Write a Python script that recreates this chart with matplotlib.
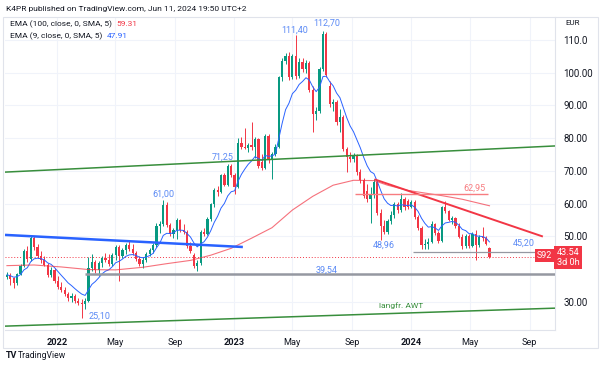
import matplotlib
matplotlib.use("Agg")
import matplotlib.pyplot as plt
import matplotlib.dates as mdates
import numpy as np
import pandas as pd
from matplotlib.patches import Rectangle

plt.rcParams["font.family"] = ["Roboto", "DejaVu Sans"]

# weekly candles of S92
weeks = pd.date_range("2021-09-20", periods=143, freq="7D")
opens = [37.6, 38.2, 37.2, 35.6, 38.4, 40.8, 45.4, 43.0, 49.6, 46.6, 44.0, 42.6, 41.2, 38.2, 39.6,
         36.4, 34.4, 33.4, 32.4, 31.0, 31.6, 30.2, 29.6, 29.2, 30.2, 40.4, 42.0, 39.6, 41.8, 43.4,
         42.6, 41.4, 44.4, 46.8, 44.0, 45.8, 47.2, 46.0, 44.8, 43.0, 41.4, 42.8, 44.6, 45.8, 47.4,
         53.2, 53.8, 59.6, 53.4, 50.6, 51.8, 55.0, 52.0, 51.4, 47.0, 44.2, 40.8, 41.8, 51.4, 50.8,
         55.4, 59.8, 64.2, 63.6, 68.6, 65.8, 71.6, 68.6, 65.0, 78.4, 77.4, 77.0, 77.8, 77.2, 79.6,
         72.8, 71.0, 80.6, 73.4, 75.0, 77.4, 98.6, 103.6, 105.2, 98.6, 105.2, 99.0, 103.4, 101.0, 103.0,
         94.8, 87.4, 88.4, 101.0, 111.8, 96.0, 90.4, 91.0, 85.0, 86.6, 76.8, 74.2, 73.6, 74.8, 69.6,
         67.2, 63.8, 61.4, 62.6, 66.6, 57.0, 53.0, 51.4, 54.6, 56.6, 60.0, 58.0, 61.4, 60.8, 59.0,
         60.4, 56.0, 52.4, 47.2, 47.6, 48.2, 53.6, 51.0, 48.6, 58.8, 57.6, 55.0, 55.6, 53.2, 49.8,
         47.0, 50.2, 47.0, 50.8, 47.2, 49.8, 49.4, 46.4]
highs = [39.0, 38.8, 37.6, 38.8, 41.5, 46.0, 47.0, 50.4, 50.0, 47.6, 45.5, 44.0, 41.8, 40.6, 40.2,
         37.8, 36.0, 34.6, 33.0, 32.6, 32.4, 31.2, 30.8, 31.0, 43.6, 44.6, 42.8, 42.4, 44.0, 45.0,
         44.6, 45.0, 47.4, 47.4, 46.4, 47.8, 48.6, 47.6, 45.6, 44.0, 43.6, 45.2, 46.4, 47.8, 54.0,
         54.6, 61.0, 60.4, 54.0, 52.6, 55.6, 55.4, 53.6, 52.0, 48.2, 44.8, 42.6, 52.0, 52.6, 56.0,
         60.2, 64.8, 65.4, 69.0, 69.2, 72.2, 72.0, 69.4, 80.0, 80.2, 83.0, 78.4, 85.0, 80.2, 80.0,
         75.0, 81.4, 81.4, 75.6, 78.2, 99.0, 104.4, 106.0, 106.2, 105.8, 111.4, 104.4, 104.6, 103.8, 103.6,
         96.0, 89.6, 101.6, 112.7, 112.4, 97.4, 92.0, 91.6, 88.8, 87.2, 77.2, 75.6, 75.4, 75.2, 70.6,
         67.8, 66.0, 65.0, 67.4, 67.2, 58.2, 55.0, 55.4, 57.6, 60.6, 60.6, 63.2, 62.0, 61.4, 61.0,
         61.0, 56.6, 53.0, 49.0, 49.6, 54.6, 54.0, 51.6, 59.2, 60.8, 58.0, 56.2, 56.0, 54.0, 50.6,
         50.8, 50.8, 51.4, 51.8, 50.4, 52.8, 50.0, 46.8]
lows = [36.8, 35.0, 34.2, 35.2, 38.0, 40.5, 42.0, 42.5, 45.8, 43.2, 41.8, 40.8, 37.6, 37.4, 35.8,
        33.8, 32.8, 31.6, 30.2, 30.0, 29.6, 29.0, 25.1, 27.8, 29.8, 39.4, 38.8, 37.8, 40.6, 42.0,
        40.8, 40.8, 42.6, 36.4, 43.2, 44.6, 45.6, 44.2, 42.4, 40.8, 40.4, 42.2, 43.8, 45.0, 46.8,
        51.0, 53.2, 52.8, 50.0, 49.6, 49.2, 51.4, 50.6, 46.4, 45.0, 40.2, 39.4, 41.2, 50.2, 50.4,
        54.8, 59.0, 62.4, 63.2, 65.2, 65.4, 68.0, 62.8, 64.6, 76.8, 76.6, 75.8, 76.4, 73.8, 70.8,
        70.2, 70.4, 72.4, 67.6, 74.4, 77.0, 97.6, 102.8, 97.8, 98.0, 98.2, 98.4, 100.2, 99.8, 94.2,
        82.0, 85.6, 87.8, 100.4, 98.8, 89.6, 88.4, 84.0, 82.0, 76.0, 69.6, 72.6, 72.8, 68.8, 66.2,
        61.8, 60.6, 54.0, 61.8, 56.4, 48.96, 50.8, 50.6, 53.8, 55.6, 57.2, 57.4, 58.0, 58.2, 58.6,
        55.4, 51.8, 46.2, 46.0, 46.2, 47.8, 50.4, 48.0, 48.2, 57.2, 54.6, 53.8, 52.6, 49.4, 46.2,
        46.4, 46.4, 46.6, 42.6, 46.8, 48.4, 47.4, 43.2]
closes = [38.2, 36.8, 35.6, 38.4, 40.8, 45.4, 43.0, 49.6, 46.6, 44.0, 42.6, 41.2, 38.2, 39.6, 36.4,
          34.4, 33.4, 32.4, 31.0, 31.6, 30.2, 29.6, 29.2, 30.2, 40.4, 42.0, 39.6, 41.8, 43.4, 42.6,
          41.4, 44.4, 46.8, 44.0, 45.8, 47.2, 46.0, 44.8, 43.0, 41.4, 42.8, 44.6, 45.8, 47.4, 53.2,
          53.8, 59.6, 53.4, 50.6, 51.8, 55.0, 52.0, 51.4, 47.0, 45.6, 40.8, 41.8, 51.4, 50.8, 55.4,
          59.8, 64.2, 63.6, 68.6, 65.8, 71.6, 68.6, 65.0, 78.4, 77.4, 77.0, 77.8, 77.2, 79.6, 71.4,
          71.0, 80.6, 73.4, 75.0, 77.4, 98.6, 103.6, 105.2, 98.6, 105.2, 99.0, 103.4, 101.0, 103.0, 94.8,
          87.4, 88.4, 101.0, 111.8, 99.4, 90.4, 91.0, 85.0, 86.6, 76.8, 74.2, 73.6, 74.8, 69.6, 67.2,
          62.4, 61.4, 62.6, 66.6, 57.0, 53.0, 51.4, 54.6, 56.6, 60.0, 58.0, 61.4, 58.8, 59.0, 60.4,
          56.0, 52.4, 47.2, 47.6, 48.2, 53.6, 51.0, 48.6, 58.8, 57.6, 55.0, 55.6, 53.2, 49.8, 47.0,
          50.2, 47.0, 50.8, 47.2, 49.8, 49.4, 47.6, 43.54]

# EMA 100 (needs history before the chart) at a few weeks
ema100_week = [0, 8, 16, 24, 32, 40, 47, 54, 60, 66, 72, 78, 84, 90, 96, 102, 108, 112, 118, 128, 134, 142]
ema100_val = [41.0, 41.2, 40.6, 39.8, 39.7, 40.5, 41.6, 42.6, 44.2, 46.3, 49.4, 52.6, 58.0, 62.2,
              65.6, 67.1, 67.0, 65.6, 64.0, 62.4, 61.3, 59.31]

# drawings on the chart: (date, price) end points
green_top = [("2021-09-16", 69.6), ("2024-10-23", 77.6)]
green_bottom = [("2021-09-16", 22.5), ("2024-10-23", 28.0)]
blue_trend = [("2021-09-16", 50.4), ("2023-01-19", 46.7)]
red_trend = [("2023-10-17", 67.4), ("2024-09-28", 49.9)]
level_6295 = [("2023-09-06", 62.95), ("2024-06-07", 62.95)]
level_3954 = [("2022-02-28", 38.54), ("2024-10-23", 38.54)]
level_4520 = [("2024-01-04", 45.20), ("2024-10-23", 45.20)]
last_price = 43.54

GREEN = "#089981"
RED = "#f23645"
BLUE = "#2962ff"
GRID = "#f0f3fa"
TXT = "#131722"

fig = plt.figure(figsize=(6, 3.7), dpi=100)
ax = fig.add_axes([5 / 600, 40 / 370, 550 / 600, 313 / 370])

x = mdates.date2num(weeks)
o = np.array(opens)
h = np.array(highs)
l = np.array(lows)
c = np.array(closes)
col = np.where(c >= o, GREEN, RED)

ax.vlines(x, l, h, colors=col, lw=0.7, zorder=3)
body = np.maximum(np.abs(c - o), 0.3)
ax.bar(x, body, bottom=np.minimum(o, c), width=4.6, color=col, lw=0, zorder=4)

# moving averages
ema9 = pd.Series(closes).ewm(span=9, adjust=False).mean()
ax.plot(x, ema9, color=BLUE, lw=0.7, zorder=5)
ax.plot(x[ema100_week], ema100_val, color=RED, lw=0.8, alpha=0.7, zorder=5)


def seg(pts, **kw):
    d = mdates.date2num(pd.to_datetime([p[0] for p in pts]))
    ax.plot(d, [p[1] for p in pts], solid_capstyle="butt", **kw)


seg(green_top, color="#388e3c", lw=1.1, zorder=6)
seg(green_bottom, color="#388e3c", lw=1.1, zorder=6)
seg(blue_trend, color=BLUE, lw=1.8, zorder=6)
seg(red_trend, color=RED, lw=1.4, zorder=6)
seg(level_6295, color="#f77c80", lw=1.0, zorder=6)
seg(level_3954, color="#9598a1", lw=1.8, zorder=6)
seg(level_4520, color="#9598a1", lw=0.9, zorder=6)
ax.axhline(last_price, color=RED, lw=0.7, ls=(0, (1, 2)), zorder=2)

# price annotations
lbl = dict(color="#5b8af5", fontsize=6.5, ha="center", va="center", zorder=7)
ax.text(mdates.datestr2num("2023-05-05"), 113.1, "111,40", **lbl)
ax.text(mdates.datestr2num("2023-07-10"), 115.0, "112,70", **lbl)
ax.text(mdates.datestr2num("2022-12-08"), 74.3, "71,25", **lbl)
ax.text(mdates.datestr2num("2022-08-08"), 62.9, "61,00", **lbl)
ax.text(mdates.datestr2num("2022-03-30"), 25.6, "25,10", **lbl)
ax.text(mdates.datestr2num("2023-11-05"), 47.3, "48,96", **lbl)
ax.text(mdates.datestr2num("2023-07-10"), 39.7, "39,54", **lbl)
ax.text(mdates.datestr2num("2024-08-20"), 47.9, "45,20", **lbl)
ax.text(mdates.datestr2num("2024-05-10"), 64.7, "62,95", color="#f77c80", fontsize=6.5,
        ha="center", va="center", zorder=7)
ax.text(mdates.datestr2num("2023-12-10"), 28.8, "langfr. AWT", color="#388e3c", fontsize=6,
        ha="center", va="center", zorder=7)

ax.set_xlim(mdates.datestr2num("2021-09-16"), mdates.datestr2num("2024-10-23"))
ax.set_ylim(21.32, 117.03)

# axes: time below, price on the right
tick_dates = ["2022-01-01", "2022-05-01", "2022-09-01", "2023-01-01", "2023-05-01",
              "2023-09-01", "2024-01-01", "2024-05-01", "2024-09-01"]
tick_names = ["2022", "May", "Sep", "2023", "May", "Sep", "2024", "May", "Sep"]
ax.set_xticks(mdates.datestr2num(tick_dates))
ax.set_xticklabels(tick_names, fontsize=6.6, color=TXT)
for t in ax.get_xticklabels():
    if t.get_text().isdigit():
        t.set_fontweight("bold")
ax.tick_params(axis="x", length=0, pad=6)

price_ticks = [30, 50, 60, 70, 80, 90, 100, 110]
ax.yaxis.tick_right()
ax.set_yticks(price_ticks)
ax.set_yticklabels(["110.0" if v == 110 else f"{v:.2f}" for v in price_ticks], fontsize=7, color=TXT)
ax.tick_params(axis="y", length=0, pad=6)
ax.grid(True, color=GRID, lw=0.8, zorder=0)
ax.set_axisbelow(True)
for s in ["left", "top"]:
    ax.spines[s].set_visible(False)
for s in ["right", "bottom"]:
    ax.spines[s].set_color("#e0e3eb")
    ax.spines[s].set_linewidth(0.8)

# current price tags
ax.text(1.003, (last_price - 21.32) / (117.03 - 21.32), "43.54\n3d 0h", transform=ax.transAxes,
        fontsize=6.6, color="white", ha="left", va="center", linespacing=1.1, zorder=8,
        bbox=dict(boxstyle="square,pad=0.25", fc=RED, ec="none"))
ax.text(0.995, (last_price + 0.6 - 21.32) / (117.03 - 21.32), "S92", transform=ax.transAxes,
        fontsize=6.4, color="white", ha="right", va="center", zorder=8,
        bbox=dict(boxstyle="square,pad=0.2", fc=RED, ec="none"))

# frame, header, legend, footer
fig.patches.append(Rectangle((3 / 600, 22 / 370), 595 / 600, 331 / 370, transform=fig.transFigure,
                             fill=False, ec="#e0e3eb", lw=0.8))
fig.text(6 / 600, 1 - 9 / 370, "K4PR published on TradingView.com, Jun 11, 2024 19:50 UTC+2",
         fontsize=6.0, color=TXT, va="center")

renderer = fig.canvas.get_renderer()
for row_y, name, val, vcol in [(24, "EMA (100, close, 0, SMA, 5)", "59.31", RED),
                               (36, "EMA (9, close, 0, SMA, 5)", "47.91", BLUE)]:
    t = fig.text(10 / 600, 1 - row_y / 370, name, fontsize=6.0, color=TXT, va="center")
    end = t.get_window_extent(renderer).x1
    fig.text((end + 4) / 600, 1 - row_y / 370, val, fontsize=6.0, color=vcol, va="center")

fig.text(573 / 600, 1 - 23 / 370, "EUR", fontsize=5.8, color=TXT, va="center", ha="center")
fig.text(6 / 600, 1 - 356 / 370, "TV", fontsize=6.5, color=TXT, va="center", fontweight="bold")
fig.text(18 / 600, 1 - 356 / 370, "TradingView", fontsize=6.2, color=TXT, va="center")

fig.savefig("out.png", dpi=100)
